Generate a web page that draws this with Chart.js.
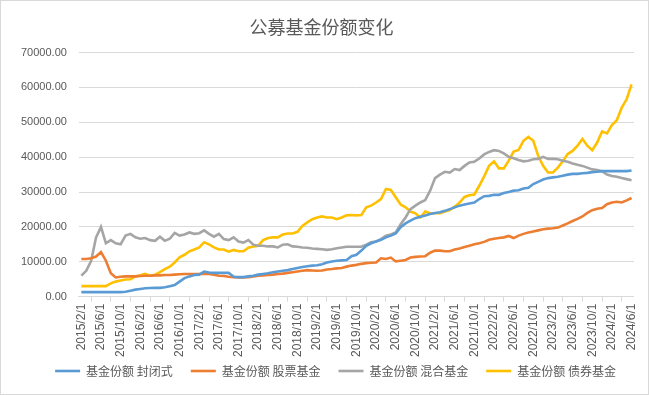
<!DOCTYPE html>
<html>
<head>
<meta charset="utf-8">
<script src="https://cdn.jsdelivr.net/npm/chart.js@4/dist/chart.umd.min.js"></script>
<style>
  html, body { margin: 0; padding: 0; background: #fff; }
  #wrap { width: 649px; height: 395px; box-sizing: border-box; border: 1px solid #d9d9d9; }
</style>
</head>
<body>
<div id="wrap"><canvas id="chart"></canvas></div>
<script>
// months 2015/2/1 .. 2024/6/1
const months = [];
for (let y = 2015, m = 2; y < 2024 || (y === 2024 && m <= 6); ) {
    months.push(`${y}/${m}/1`);
    m++;
    if (m > 12) { m = 1; y++; }
}

const seriesNames = ['基金份额 封闭式', '基金份额 股票基金', '基金份额 混合基金', '基金份额 债券基金'];

const closedEnd = [
    1300, 1300, 1300, 1300, 1300, 1300, 1300, 1300, 1300, 1400,
    1700, 2000, 2200, 2400, 2450, 2500, 2500, 2700, 3000, 3300,
    4300, 5300, 5800, 6200, 6300, 7200, 6900, 6800, 6800, 6800,
    6800, 5700, 5600, 5600, 5800, 6000, 6300, 6500, 6700, 7000,
    7200, 7400, 7600, 7900, 8200, 8500, 8700, 8900, 9000, 9300,
    9800, 10100, 10300, 10400, 10500, 11600, 12000, 13200, 14600, 15300,
    15800, 16300, 17000, 17500, 18100, 19900, 21000, 21800, 22500, 22900,
    23300, 23700, 24000, 24200, 24600, 25100, 25600, 26100, 26400, 26700,
    27000, 28000, 28800, 28900, 29200, 29200, 29700, 30000, 30400, 30500,
    31000, 31200, 32300, 32900, 33600, 34000, 34200, 34400, 34700, 35000,
    35200, 35200, 35400, 35500, 35700, 35800, 36000, 36000, 36000, 36000,
    36000, 36000, 36200
];

const stockFund = [
    10800, 10800, 11000, 11500, 12800, 10300, 6700, 5500, 5700, 5800,
    5800, 5800, 5900, 6000, 6000, 6100, 6100, 6200, 6200, 6300,
    6400, 6500, 6500, 6500, 6500, 6600, 6500, 6300, 6000, 5900,
    5700, 5600, 5500, 5500, 5600, 5800, 6000, 6100, 6200, 6300,
    6500, 6600, 6800, 7000, 7200, 7400, 7600, 7500, 7400, 7500,
    7800, 7900, 8100, 8200, 8600, 8900, 9100, 9400, 9600, 9700,
    9800, 11000, 10800, 11200, 10100, 10300, 10500, 11200, 11400, 11500,
    11600, 12600, 13200, 13200, 13000, 13000, 13500, 13800, 14200, 14600,
    15000, 15300, 15700, 16300, 16600, 16800, 17000, 17400, 16800, 17500,
    18000, 18400, 18700, 19000, 19300, 19500, 19600, 19800, 20400, 21000,
    21700, 22300, 23000, 24000, 24800, 25200, 25400, 26500, 27000, 27200,
    27000, 27600, 28300
];

const mixedFund = [
    6000, 7400, 10300, 17000, 20000, 15300, 16200, 15300, 15000, 17500,
    18000, 17000, 16600, 16800, 16200, 16000, 17200, 16000, 16600, 18300,
    17500, 17800, 18400, 18000, 18200, 19000, 18000, 17200, 18000, 16500,
    16200, 17000, 15800, 15500, 16200, 14900, 14600, 14600, 14400, 14400,
    14100, 14900, 15000, 14400, 14300, 14100, 14000, 13800, 13700, 13600,
    13400, 13600, 13900, 14100, 14300, 14300, 14300, 14300, 14900, 15600,
    15800, 16500, 17500, 17800, 18400, 20800, 22700, 25100, 26100, 27000,
    27700, 30400, 34000, 35000, 35800, 35600, 36600, 36300, 37500, 38500,
    38700, 39600, 40800, 41500, 42000, 41800, 41100, 40100, 39700, 39200,
    38800, 39000, 39400, 39500, 40100, 39500, 39500, 39400, 39000, 38700,
    38200, 37800, 37500, 37000, 36500, 36300, 36000, 35000, 34600, 34400,
    34000, 33700, 33400
];

const bondFund = [
    3000, 3000, 3000, 3000, 3000, 3000, 3800, 4300, 4600, 4900,
    5000, 5800, 6100, 6500, 6000, 6300, 7000, 7900, 8600, 9800,
    11300, 12000, 13000, 13500, 14100, 15600, 15000, 14100, 13500, 13500,
    12900, 13400, 13000, 13000, 14000, 14400, 14600, 16200, 16800, 17000,
    17000, 17800, 18100, 18100, 18600, 20300, 21300, 22200, 22700, 23000,
    22700, 22700, 22200, 22700, 23300, 23400, 23300, 23400, 25600, 26100,
    27000, 28000, 30900, 30600, 28500, 26400, 25600, 24400, 23900, 22700,
    24400, 23900, 23900, 23900, 24400, 24800, 25800, 27000, 28600, 29100,
    29300, 31800, 34500, 37500, 38800, 36800, 36800, 39000, 41600, 42100,
    44700, 45800, 44700, 40400, 37500, 35600, 35600, 37000, 38800, 40900,
    41800, 43300, 45200, 43300, 42000, 44200, 47400, 46800, 49200, 50600,
    54200, 56600, 60900
];

const colors = ['#5B9BD5', '#ED7D31', '#A5A5A5', '#FFC000'];
const values = [closedEnd, stockFund, mixedFund, bondFund];

const textColor = '#595959';
const gridColor = '#D9D9D9';
const font = "'Microsoft YaHei', 'Noto Sans CJK SC', sans-serif";

// nudge the legend a little to the right, the original sits off-centre
const legendShift = {
    id: 'legendShift',
    afterLayout(chart) {
        chart.legend.left += 20;
        chart.legend.right += 20;
    }
};

new Chart(document.getElementById('chart'), {
    type: 'line',
    data: {
        labels: months,
        datasets: values.map((v, i) => ({
            label: seriesNames[i],
            data: v,
            borderColor: colors[i],
            backgroundColor: colors[i],
            borderWidth: 2.6,
            pointRadius: 0,
            tension: 0,
            fill: false
        }))
    },
    plugins: [legendShift],
    options: {
        responsive: true,
        maintainAspectRatio: false,
        animation: false,
        layout: { padding: { left: 8, right: 14, top: 0, bottom: 7 } },
        plugins: {
            title: {
                display: true,
                text: '公募基金份额变化',
                color: textColor,
                font: { family: font, size: 18, weight: 'normal' },
                padding: { top: 15, bottom: 15 }
            },
            legend: {
                position: 'bottom',
                labels: {
                    color: textColor,
                    font: { family: font, size: 12 },
                    usePointStyle: true,
                    pointStyle: 'line',
                    pointStyleWidth: 25,
                    boxHeight: 3,
                    padding: 6,
                    // wider gap between items, like the original legend
                    generateLabels: chart => Chart.defaults.plugins.legend.labels.generateLabels(chart)
                        .map(item => ({ ...item, text: item.text + '\u3000' }))
                }
            },
            tooltip: { enabled: false }
        },
        scales: {
            x: {
                offset: true,
                grid: {
                    offset: true,
                    drawOnChartArea: false,
                    tickLength: 5,
                    color: gridColor
                },
                border: { color: gridColor },
                ticks: {
                    autoSkip: false,
                    maxRotation: 90,
                    minRotation: 90,
                    color: textColor,
                    font: { family: "'Liberation Sans', Arial, sans-serif", size: 12 },
                    padding: 2,
                    callback: (val, idx) => (idx % 4 === 0 ? months[idx] : null)
                }
            },
            y: {
                min: 0,
                max: 70000,
                grid: { color: gridColor, drawTicks: false },
                border: { display: false },
                ticks: {
                    stepSize: 10000,
                    color: textColor,
                    padding: 12,
                    font: { family: "'Liberation Sans', Arial, sans-serif", size: 11 },
                    callback: v => v.toFixed(2)
                }
            }
        }
    }
});
</script>
</body>
</html>
